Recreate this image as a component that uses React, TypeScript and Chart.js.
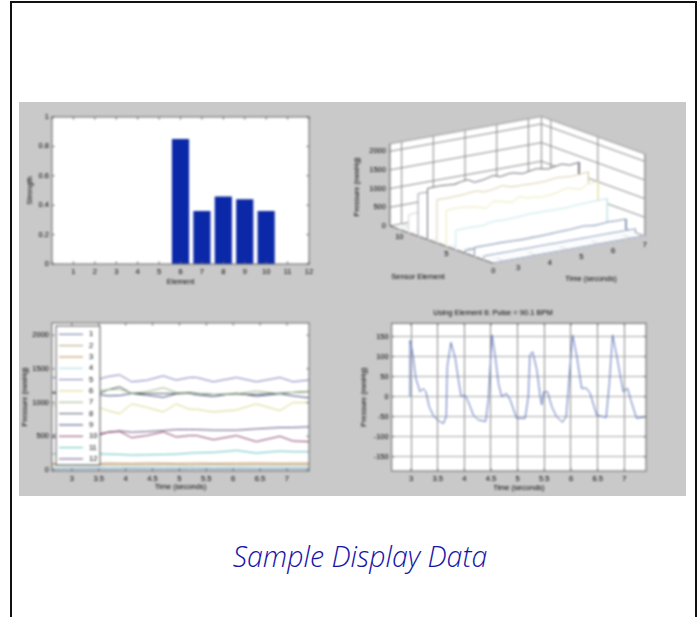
import React, { useEffect, useRef } from "react";
import { Chart, registerables } from "chart.js";

Chart.register(...registerables);

// ---- bar chart ----
const elements = [1, 2, 3, 4, 5, 6, 7, 8, 9, 10, 11, 12];
const strength = [0, 0, 0, 0, 0, 0.85, 0.36, 0.46, 0.44, 0.36, 0, 0];

// ---- pressure traces ----
const times = [2.63, 3.0, 3.5, 3.67, 3.89, 4.11, 4.39, 4.7, 4.94, 5.19, 5.32, 5.63, 6.06, 6.43, 6.87, 7.11, 7.41];
const s1 = [12, 14, 15, 13, 14, 16, 15, 14, 13, 15, 16, 14, 15, 14, 13, 15, 14];
const s2 = [72, 74, 70, 75, 73, 71, 74, 76, 72, 70, 74, 75, 73, 76, 72, 74, 73];
const s3 = [98, 100, 96, 101, 99, 97, 102, 100, 97, 99, 101, 98, 100, 103, 99, 101, 100];
const s4 = [38, 40, 37, 41, 39, 38, 42, 40, 37, 39, 41, 38, 40, 42, 39, 41, 40];
const s5 = [1370, 1380, 1347, 1385, 1411, 1308, 1330, 1396, 1333, 1372, 1372, 1308, 1372, 1308, 1372, 1308, 1335];
const s6 = [960, 980, 930, 880, 835, 980, 930, 860, 980, 900, 900, 860, 890, 980, 880, 1000, 1000];
const s7 = [1160, 1150, 1170, 1190, 1200, 1140, 1160, 1220, 1150, 1130, 1140, 1120, 1130, 1170, 1130, 1150, 1170];
const s8 = [1140, 1130, 1130, 1190, 1235, 1135, 1135, 1135, 1135, 1150, 1135, 1120, 1125, 1120, 1140, 1150, 1160];
const s9 = [1150, 1140, 1120, 1100, 1105, 1135, 1110, 1078, 1130, 1135, 1115, 1090, 1140, 1095, 1130, 1100, 1070];
const s10 = [480, 500, 535, 560, 570, 480, 510, 565, 490, 510, 510, 450, 510, 420, 500, 430, 420];
const s11 = [240, 240, 240, 235, 230, 220, 225, 230, 235, 250, 255, 260, 290, 250, 280, 270, 270];
const s12 = [520, 530, 515, 560, 580, 560, 570, 585, 600, 600, 600, 590, 590, 610, 630, 630, 640];
const seriesValues = [s1, s2, s3, s4, s5, s6, s7, s8, s9, s10, s11, s12];
const seriesLabels = ["1", "2", "3", "4", "5", "6", "7", "8", "9", "10", "11", "12"];
const seriesColors = ["#5f749c", "#aca47a", "#c08c50", "#a8dae0", "#7c7cbc", "#d8d888", "#9cb484", "#565e68", "#404c7c", "#8c4068", "#5cc4bc", "#645480"];
const pressureTicks = [0, 500, 1000, 1500, 2000];

// ---- waterfall: which trace stands at each depth of the sensor axis ----
const depthOrder = [0, 2, 10, 1, 11, 5, 6, 4, 7, 9, 3];
const depthColors = ["#8fa0c0", "#8fa0c0", "#7f90b0", "#6f7f9f", "#c4e6ea", "#ecebb8", "#d8cfa8", "#6c6c78", "#9a9aa0", "#d8d0d8", "#d8e8e8"];
const zTicks = [0, 500, 1000, 1500, 2000];
const timeTicks = [3, 4, 5, 6, 7];
const elementTicks = [0, 5, 10];

// ---- pulse trace ----
const pulseTimes = [2.98, 2.98, 3.0, 3.04, 3.09, 3.17, 3.23, 3.28, 3.34, 3.43, 3.54, 3.61, 3.66, 3.68, 3.75, 3.83, 3.89, 3.94, 4.01, 4.06, 4.17, 4.26, 4.4, 4.45, 4.52, 4.58, 4.64, 4.7, 4.79, 4.86, 4.98, 5.14, 5.2, 5.23, 5.28, 5.36, 5.42, 5.45, 5.49, 5.56, 5.64, 5.73, 5.84, 5.91, 6.03, 6.11, 6.2, 6.29, 6.36, 6.48, 6.66, 6.72, 6.78, 6.86, 6.98, 7.06, 7.12, 7.23, 7.41];
const pulseValues = [0, 140, 133, 100, 46, 12, 20, 12, -25, -50, -62, -67, -50, 75, 135, 96, 42, 0, 4, -8, -46, -58, -62, -8, 154, 100, 33, 0, 8, -8, -54, -54, 0, 104, 112, 67, 4, -21, 12, 12, -25, -50, -64, -50, 154, 100, 21, 21, 8, -46, -52, 33, 154, 100, 12, 21, -8, -54, -50];

const FONT = "'Liberation Sans', Arial, sans-serif";
const TEXT = "#000000";
const font = { family: FONT, size: 7.5 };

const plotFrame = {
  id: "plotFrame",
  beforeDraw(chart: any) {
    const { ctx, chartArea: a } = chart;
    ctx.save();
    ctx.fillStyle = "#ffffff";
    ctx.fillRect(a.left, a.top, a.right - a.left, a.bottom - a.top);
    ctx.restore();
  },
  afterDatasetsDraw(chart: any) {
    const { ctx, chartArea: a, scales } = chart;
    ctx.save();
    ctx.strokeStyle = "#666666";
    ctx.lineWidth = 1;
    ctx.strokeRect(a.left, a.top, a.right - a.left, a.bottom - a.top);
    ctx.beginPath();
    scales.x.ticks.forEach((_: any, i: number) => {
      const p = scales.x.getPixelForTick(i);
      ctx.moveTo(p, a.bottom); ctx.lineTo(p, a.bottom - 2.5);
      ctx.moveTo(p, a.top); ctx.lineTo(p, a.top + 2.5);
    });
    scales.y.ticks.forEach((_: any, i: number) => {
      const p = scales.y.getPixelForTick(i);
      ctx.moveTo(a.left, p); ctx.lineTo(a.left + 2.5, p);
      ctx.moveTo(a.right, p); ctx.lineTo(a.right - 2.5, p);
    });
    ctx.stroke();
    ctx.restore();
  },
};

const legendBox = {
  id: "legendBox",
  afterDatasetsDraw(chart: any) {
    const { ctx, chartArea: a } = chart;
    const left = a.left + 4, top = a.top + 3, w = 44, h = 139;
    ctx.save();
    ctx.fillStyle = "#ffffff";
    ctx.strokeStyle = "#555555";
    ctx.lineWidth = 1;
    ctx.fillRect(left, top, w, h);
    ctx.strokeRect(left, top, w, h);
    ctx.font = `7.5px ${FONT}`;
    ctx.textBaseline = "middle";
    chart.data.datasets.forEach((d: any, i: number) => {
      const y = top + 8.3 + i * 11.33;
      ctx.strokeStyle = d.borderColor;
      ctx.beginPath();
      ctx.moveTo(left + 3, y);
      ctx.lineTo(left + 27, y);
      ctx.stroke();
      ctx.fillStyle = TEXT;
      ctx.fillText(d.label, left + 33, y);
    });
    ctx.restore();
  },
};

function fixedAxis(size: number, horizontal: boolean) {
  return (s: any) => {
    if (horizontal) s.height = size;
    else s.width = size;
  };
}

function useChart(make: () => any) {
  const ref = useRef<HTMLCanvasElement>(null);
  useEffect(() => {
    const chart = new Chart(ref.current as HTMLCanvasElement, make());
    return () => chart.destroy();
  }, []);
  return ref;
}

const baseOptions = {
  animation: false,
  responsive: false,
  devicePixelRatio: 1,
};

const noGrid = { display: false, drawTicks: false };

function barConfig() {
  return {
    type: "bar",
    data: {
      datasets: [{
        data: elements.map((e, i) => ({ x: e, y: strength[i] })),
        backgroundColor: "#0b28a8",
        borderColor: "#0a1f80",
        borderWidth: 0,
        barPercentage: 0.8,
        categoryPercentage: 1,
      }],
    },
    options: {
      ...baseOptions,
      layout: { padding: { top: 15, right: 31, left: 0, bottom: 0 } },
      plugins: { legend: { display: false }, tooltip: { enabled: false } },
      scales: {
        x: {
          type: "linear", min: 0, max: 12, offset: false,
          afterFit: fixedAxis(36, true),
          grid: noGrid, border: { display: false },
          ticks: { stepSize: 1, font, color: TEXT, padding: 3, maxRotation: 0, autoSkip: false, callback: (v: number) => (v === 0 ? "" : String(v)) },
          title: { display: true, text: "Element", font, color: TEXT, padding: { top: 0, bottom: 13.8 } },
        },
        y: {
          min: 0, max: 1,
          afterFit: fixedAxis(33, false),
          grid: noGrid, border: { display: false },
          ticks: { stepSize: 0.2, font, color: TEXT, padding: 3, callback: (v: number) => String(+v.toFixed(1)) },
          title: { display: true, text: "Strength", font, color: TEXT, padding: { top: 6, bottom: 0 } },
        },
      },
    },
    plugins: [plotFrame],
  };
}

function traceConfig() {
  return {
    type: "scatter",
    data: {
      datasets: seriesValues.map((vals, i) => ({
        label: seriesLabels[i],
        data: vals.map((v, k) => ({ x: times[k], y: v })),
        showLine: true,
        borderColor: seriesColors[i],
        borderWidth: 1,
        pointRadius: 0,
      })),
    },
    options: {
      ...baseOptions,
      layout: { padding: { top: 23, right: 31, left: 0, bottom: 0 } },
      plugins: { legend: { display: false }, tooltip: { enabled: false } },
      scales: {
        x: {
          type: "linear", min: 2.63, max: 7.41,
          afterFit: fixedAxis(25, true),
          grid: noGrid, border: { display: false },
          ticks: { stepSize: 0.5, includeBounds: false, font, color: TEXT, padding: 3, maxRotation: 0, callback: (v: number) => String(v) },
          title: { display: true, text: "Time (seconds)", font, color: TEXT, padding: { top: 0, bottom: 5 } },
        },
        y: {
          min: -15, max: 2180,
          afterFit: fixedAxis(33, false),
          afterBuildTicks: (s: any) => { s.ticks = pressureTicks.map((value) => ({ value })); },
          grid: noGrid, border: { display: false },
          ticks: { font, color: TEXT, padding: 3, callback: (v: number) => String(v) },
          title: { display: true, text: "Pressure (mmHg)", font, color: TEXT, padding: { top: 1, bottom: 0 } },
        },
      },
    },
    plugins: [plotFrame, legendBox],
  };
}

function pulseConfig() {
  return {
    type: "scatter",
    data: {
      datasets: [{
        data: pulseTimes.map((t, i) => ({ x: t, y: pulseValues[i] })),
        showLine: true,
        borderColor: "#5a70b8",
        borderWidth: 1,
        pointRadius: 0,
      }],
    },
    options: {
      ...baseOptions,
      layout: { padding: { top: 0, right: 40, left: 0, bottom: 0 } },
      plugins: {
        legend: { display: false }, tooltip: { enabled: false },
        title: { display: true, text: "Using Element 6: Pulse = 90.1 BPM", font: { ...font, weight: "normal" }, color: TEXT, padding: { top: 8.8, bottom: 5.5 } },
      },
      scales: {
        x: {
          type: "linear", min: 2.638, max: 7.407,
          afterFit: fixedAxis(25, true),
          grid: { display: true, color: "#8a8a8a", drawTicks: false }, border: { display: false },
          ticks: { stepSize: 0.5, includeBounds: false, font, color: TEXT, padding: 3, maxRotation: 0, callback: (v: number) => String(v) },
          title: { display: true, text: "Time (seconds)", font, color: TEXT, padding: { top: 0, bottom: 4 } },
        },
        y: {
          min: -185.6, max: 183,
          afterFit: fixedAxis(51.7, false),
          grid: { display: true, color: "#a8a8a8", drawTicks: false }, border: { display: false },
          ticks: { stepSize: 50, includeBounds: false, font, color: TEXT, padding: 3, callback: (v: number) => String(v) },
          title: { display: true, text: "Pressure (mmHg)", font, color: TEXT, padding: { top: 19.8, bottom: 0 } },
        },
      },
    },
    plugins: [plotFrame],
  };
}

// Oblique projection of (time, depth, pressure) onto the scale units of the waterfall chart.
const T0 = 2.63, T1 = 7.41, E1 = 11, Z1 = 2200;
function project(t: number, e: number, p: number) {
  return {
    x: 493.3 + (t - T0) * 31.7 - e * 9.4,
    y: 263.3 - (t - T0) * 5.72 - e * 3.4 - p * 0.0373,
  };
}

const waterfallFrame = {
  id: "waterfallFrame",
  beforeDatasetsDraw(chart: any) {
    const { ctx, scales } = chart;
    const px = (q: { x: number; y: number }) => [scales.x.getPixelForValue(q.x), scales.y.getPixelForValue(q.y)];
    const poly = (pts: { x: number; y: number }[]) => {
      ctx.beginPath();
      pts.forEach((q, i) => {
        const [a, b] = px(q);
        if (i === 0) ctx.moveTo(a, b);
        else ctx.lineTo(a, b);
      });
    };
    const seg = (q1: any, q2: any, color: string) => {
      ctx.strokeStyle = color;
      poly([q1, q2]);
      ctx.stroke();
    };
    ctx.save();
    ctx.lineWidth = 1;
    ctx.fillStyle = "#ffffff";
    poly([project(T0, E1, 0), project(T1, E1, 0), project(T1, E1, Z1), project(T0, E1, Z1)]);
    ctx.closePath(); ctx.fill();
    poly([project(T1, 0, 0), project(T1, E1, 0), project(T1, E1, Z1), project(T1, 0, Z1)]);
    ctx.closePath(); ctx.fill();
    poly([project(T0, 0, 0), project(T1, 0, 0), project(T1, E1, 0), project(T0, E1, 0)]);
    ctx.closePath(); ctx.fill();
    const wire = "#8a8a8a", edge = "#9a9a9a";
    zTicks.forEach((z) => {
      seg(project(T0, E1, z), project(T1, E1, z), wire);
      seg(project(T1, E1, z), project(T1, 0, z), wire);
    });
    timeTicks.forEach((t) => {
      seg(project(t, E1, 0), project(t, E1, Z1), wire);
      seg(project(t, 0, 0), project(t, E1, 0), "#e0e0e0");
    });
    elementTicks.forEach((e) => {
      seg(project(T1, e, 0), project(T1, e, Z1), wire);
      seg(project(T0, e, 0), project(T1, e, 0), "#e0e0e0");
    });
    seg(project(T0, E1, Z1), project(T1, E1, Z1), edge);
    seg(project(T1, E1, Z1), project(T1, 0, Z1), edge);
    seg(project(T1, 0, 0), project(T1, 0, Z1), edge);
    seg(project(T0, E1, 0), project(T0, E1, Z1), "#555555");
    seg(project(T1, E1, 0), project(T1, E1, Z1), "#888888");
    seg(project(T0, 0, 0), project(T1, 0, 0), "#777777");
    seg(project(T0, 0, 0), project(T0, E1, 0), "#555555");
    ctx.restore();
  },
  afterDatasetsDraw(chart: any) {
    const { ctx, scales } = chart;
    const tx = (q: { x: number; y: number }) => [scales.x.getPixelForValue(q.x), scales.y.getPixelForValue(q.y)];
    ctx.save();
    ctx.font = `7.5px ${FONT}`;
    ctx.fillStyle = TEXT;
    ctx.textBaseline = "middle";
    ctx.textAlign = "right";
    zTicks.forEach((z) => {
      const [a, b] = tx(project(T0, E1, z));
      ctx.fillText(String(z), a - 4, b);
    });
    ctx.textAlign = "center";
    timeTicks.forEach((t) => {
      const [a, b] = tx(project(t, 0, 0));
      ctx.fillText(String(t), a + 13, b + 7);
    });
    elementTicks.forEach((e) => {
      const [a, b] = tx(project(T0, e, 0));
      ctx.fillText(String(e), a, b + 8);
    });
    const [sx, sy] = tx({ x: 418, y: 277 });
    ctx.fillText("Sensor Element", sx, sy);
    const [ux, uy] = tx({ x: 591, y: 279 });
    ctx.fillText("Time (seconds)", ux, uy);
    const [vx, vy] = tx({ x: 357, y: 187 });
    ctx.translate(vx, vy);
    ctx.rotate(-Math.PI / 2);
    ctx.fillText("Pressure (mmHg)", 0, 0);
    ctx.restore();
  },
};

function waterfallConfig() {
  const datasets: any[] = [];
  depthOrder.forEach((seriesIndex, e) => {
    const vals = seriesValues[seriesIndex];
    const color = depthColors[e];
    const baseIndex = datasets.length + 1;
    datasets.push({
      data: [project(times[0], e, 0), ...vals.map((v, k) => project(times[k], e, v)), project(times[times.length - 1], e, 0)],
      showLine: true,
      borderColor: color,
      borderWidth: 1,
      pointRadius: 0,
      fill: baseIndex,
      backgroundColor: "#ffffff",
    });
    datasets.push({
      data: [project(times[0], e, 0), project(times[times.length - 1], e, 0)],
      showLine: true,
      borderColor: "#e4e8ee",
      borderWidth: 1,
      pointRadius: 0,
    });
  });
  return {
    type: "scatter",
    data: { datasets },
    options: {
      ...baseOptions,
      layout: { padding: 0 },
      plugins: { legend: { display: false }, tooltip: { enabled: false }, filler: { drawTime: "beforeDatasetDraw" } },
      scales: {
        x: { type: "linear", min: 340, max: 686, display: false },
        y: { type: "linear", min: 102, max: 300, reverse: true, display: false },
      },
    },
    plugins: [waterfallFrame],
  };
}

const canvasStyle = (left: number, top: number): React.CSSProperties => ({
  position: "absolute", left, top, filter: "blur(0.85px)",
});

export default function App() {
  const a = useChart(barConfig);
  const b = useChart(waterfallConfig);
  const c = useChart(traceConfig);
  const d = useChart(pulseConfig);
  return (
    <>
      <div style={{ position: "absolute", left: 10, top: 1, width: 687, height: 616, boxSizing: "border-box", borderTop: "2px solid #111", borderLeft: "2px solid #111", borderRight: "2px solid #111" }} />
      <div style={{ position: "absolute", left: 19, top: 102, width: 667, height: 394, background: "#c9c9c9" }} />
      <canvas ref={a} width={321} height={198} style={canvasStyle(19, 102)} />
      <canvas ref={b} width={346} height={198} style={canvasStyle(340, 102)} />
      <canvas ref={c} width={321} height={196} style={canvasStyle(19, 300)} />
      <canvas ref={d} width={346} height={196} style={canvasStyle(340, 300)} />
      <div style={{ position: "absolute", left: 10, width: 700, top: 536, textAlign: "center", font: "italic 300 28.5px 'Open Sans', 'Noto Sans', sans-serif", color: "#1414a8", lineHeight: "40px" }}>
        Sample Display Data
      </div>
    </>
  );
}
